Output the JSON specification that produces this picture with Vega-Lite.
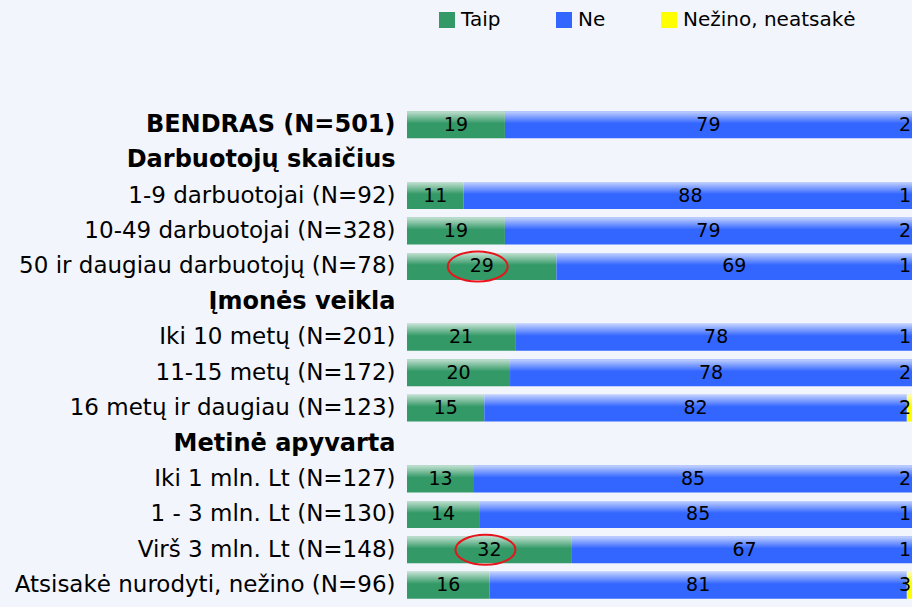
{
  "$schema": "https://vega.github.io/schema/vega-lite/v6.json",
  "autosize": {"type": "none"},
  "width": 505,
  "height": 496,
  "padding": {"left": 407, "top": 107, "right": 0, "bottom": 4},
  "background": "#f2f5fb",
  "config": {
    "view": {"stroke": null},
    "font": "DejaVu Sans"
  },
  "data": {
    "values": [
      {"category": "BENDRAS (N=501)", "answer": "Taip", "code": 1, "value": 19},
      {"category": "BENDRAS (N=501)", "answer": "Ne", "code": 2, "value": 79},
      {"category": "BENDRAS (N=501)", "answer": "Nežino, neatsakė", "code": 3, "value": 2},
      {"category": "1-9 darbuotojai (N=92)", "answer": "Taip", "code": 1, "value": 11},
      {"category": "1-9 darbuotojai (N=92)", "answer": "Ne", "code": 2, "value": 88},
      {"category": "1-9 darbuotojai (N=92)", "answer": "Nežino, neatsakė", "code": 3, "value": 1},
      {"category": "10-49 darbuotojai (N=328)", "answer": "Taip", "code": 1, "value": 19},
      {"category": "10-49 darbuotojai (N=328)", "answer": "Ne", "code": 2, "value": 79},
      {"category": "10-49 darbuotojai (N=328)", "answer": "Nežino, neatsakė", "code": 3, "value": 2},
      {"category": "50 ir daugiau darbuotojų (N=78)", "answer": "Taip", "code": 1, "value": 29},
      {"category": "50 ir daugiau darbuotojų (N=78)", "answer": "Ne", "code": 2, "value": 69},
      {"category": "50 ir daugiau darbuotojų (N=78)", "answer": "Nežino, neatsakė", "code": 3, "value": 1},
      {"category": "Iki 10 metų (N=201)", "answer": "Taip", "code": 1, "value": 21},
      {"category": "Iki 10 metų (N=201)", "answer": "Ne", "code": 2, "value": 78},
      {"category": "Iki 10 metų (N=201)", "answer": "Nežino, neatsakė", "code": 3, "value": 1},
      {"category": "11-15 metų (N=172)", "answer": "Taip", "code": 1, "value": 20},
      {"category": "11-15 metų (N=172)", "answer": "Ne", "code": 2, "value": 78},
      {"category": "11-15 metų (N=172)", "answer": "Nežino, neatsakė", "code": 3, "value": 2},
      {"category": "16 metų ir daugiau (N=123)", "answer": "Taip", "code": 1, "value": 15},
      {"category": "16 metų ir daugiau (N=123)", "answer": "Ne", "code": 2, "value": 82},
      {"category": "16 metų ir daugiau (N=123)", "answer": "Nežino, neatsakė", "code": 3, "value": 2},
      {"category": "Iki 1 mln. Lt (N=127)", "answer": "Taip", "code": 1, "value": 13},
      {"category": "Iki 1 mln. Lt (N=127)", "answer": "Ne", "code": 2, "value": 85},
      {"category": "Iki 1 mln. Lt (N=127)", "answer": "Nežino, neatsakė", "code": 3, "value": 2},
      {"category": "1 - 3 mln. Lt (N=130)", "answer": "Taip", "code": 1, "value": 14},
      {"category": "1 - 3 mln. Lt (N=130)", "answer": "Ne", "code": 2, "value": 85},
      {"category": "1 - 3 mln. Lt (N=130)", "answer": "Nežino, neatsakė", "code": 3, "value": 1},
      {"category": "Virš 3 mln. Lt (N=148)", "answer": "Taip", "code": 1, "value": 32},
      {"category": "Virš 3 mln. Lt (N=148)", "answer": "Ne", "code": 2, "value": 67},
      {"category": "Virš 3 mln. Lt (N=148)", "answer": "Nežino, neatsakė", "code": 3, "value": 1},
      {"category": "Atsisakė nurodyti, nežino (N=96)", "answer": "Taip", "code": 1, "value": 16},
      {"category": "Atsisakė nurodyti, nežino (N=96)", "answer": "Ne", "code": 2, "value": 81},
      {"category": "Atsisakė nurodyti, nežino (N=96)", "answer": "Nežino, neatsakė", "code": 3, "value": 3}
    ]
  },
  "encoding": {
    "y": {
      "field": "category",
      "type": "nominal",
      "title": null,
      "scale": {
        "domain": [
          "BENDRAS (N=501)",
          "Darbuotojų skaičius",
          "1-9 darbuotojai (N=92)",
          "10-49 darbuotojai (N=328)",
          "50 ir daugiau darbuotojų (N=78)",
          "Įmonės veikla",
          "Iki 10 metų (N=201)",
          "11-15 metų (N=172)",
          "16 metų ir daugiau (N=123)",
          "Metinė apyvarta",
          "Iki 1 mln. Lt (N=127)",
          "1 - 3 mln. Lt (N=130)",
          "Virš 3 mln. Lt (N=148)",
          "Atsisakė nurodyti, nežino (N=96)"
        ],
        "paddingInner": 0.24,
        "paddingOuter": 0.12
      },
      "axis": {
        "ticks": false,
        "domain": false,
        "labelPadding": 12,
        "labelLimit": 500,
        "labelFontSize": {
          "condition": {
            "test": "indexof(['BENDRAS (N=501)','Darbuotojų skaičius','Įmonės veikla','Metinė apyvarta'], datum.value) >= 0",
            "value": 24
          },
          "value": 23
        },
        "labelColor": "#000000",
        "labelFont": "DejaVu Sans",
        "labelFontWeight": {
          "condition": {
            "test": "indexof(['BENDRAS (N=501)','Darbuotojų skaičius','Įmonės veikla','Metinė apyvarta'], datum.value) >= 0",
            "value": "bold"
          },
          "value": "normal"
        }
      }
    }
  },
  "layer": [
    {
      "mark": {"type": "bar"},
      "encoding": {
        "x": {
          "field": "value",
          "type": "quantitative",
          "stack": "zero",
          "axis": null,
          "scale": {"domain": [0, 98], "clamp": true, "nice": false, "zero": true}
        },
        "order": {"field": "code", "type": "quantitative", "sort": "ascending"},
        "color": {
          "field": "answer",
          "type": "nominal",
          "sort": ["Taip", "Ne", "Nežino, neatsakė"],
          "scale": {
            "domain": ["Taip", "Ne", "Nežino, neatsakė"],
            "range": ["#339966", "#3366ff", "#ffff00"]
          },
          "legend": {
            "title": null,
            "orient": "none",
            "direction": "horizontal",
            "legendX": 30,
            "legendY": -97,
            "symbolType": "square",
            "symbolSize": 256,
            "symbolStrokeWidth": 0,
            "symbolOpacity": 1,
            "labelFontSize": 20,
            "labelFont": "DejaVu Sans",
            "labelColor": "#000000",
            "labelLimit": 400,
            "labelOffset": 4,
            "columnPadding": 53
          }
        }
      }
    },
    {
      "mark": {
        "type": "bar",
        "fill": {
          "gradient": "linear",
          "x1": 0, "y1": 0, "x2": 0, "y2": 1,
          "stops": [
            {"offset": 0, "color": "rgba(255,255,255,0.7)"},
            {"offset": 0.45, "color": "rgba(255,255,255,0)"},
            {"offset": 1, "color": "rgba(255,255,255,0)"}
          ]
        }
      },
      "encoding": {
        "x": {"aggregate": "sum", "field": "value", "type": "quantitative"}
      }
    },
    {
      "mark": {"type": "text", "fontSize": 19, "fill": "#000000", "baseline": "middle", "align": "center"},
      "encoding": {
        "x": {"field": "value", "type": "quantitative", "stack": "zero", "bandPosition": 0.5},
        "detail": {"field": "answer", "type": "nominal"},
        "order": {"field": "code", "type": "quantitative", "sort": "ascending"},
        "text": {
          "condition": {"test": "datum.code != 3", "field": "value", "type": "quantitative"},
          "value": ""
        }
      }
    },
    {
      "mark": {"type": "text", "fontSize": 19, "fill": "#000000", "baseline": "middle", "align": "right", "dx": -1},
      "encoding": {
        "x": {"field": "value", "type": "quantitative", "stack": "zero"},
        "detail": {"field": "answer", "type": "nominal"},
        "order": {"field": "code", "type": "quantitative", "sort": "ascending"},
        "text": {
          "condition": {"test": "datum.code == 3", "field": "value", "type": "quantitative"},
          "value": ""
        }
      }
    },
    {
      "transform": [
        {"filter": "datum.code == 1 && (datum.category == '50 ir daugiau darbuotojų (N=78)' || datum.category == 'Virš 3 mln. Lt (N=148)')"}
      ],
      "mark": {
        "type": "point",
        "shape": "M -1 0 A 1 0.5 0 1 0 1 0 A 1 0.5 0 1 0 -1 0 Z",
        "size": 3600,
        "filled": false,
        "stroke": "#e8141c",
        "strokeWidth": 2,
        "opacity": 1,
        "xOffset": -4
      },
      "encoding": {
        "x": {"field": "value", "type": "quantitative", "stack": "zero", "bandPosition": 0.5}
      }
    }
  ]
}
